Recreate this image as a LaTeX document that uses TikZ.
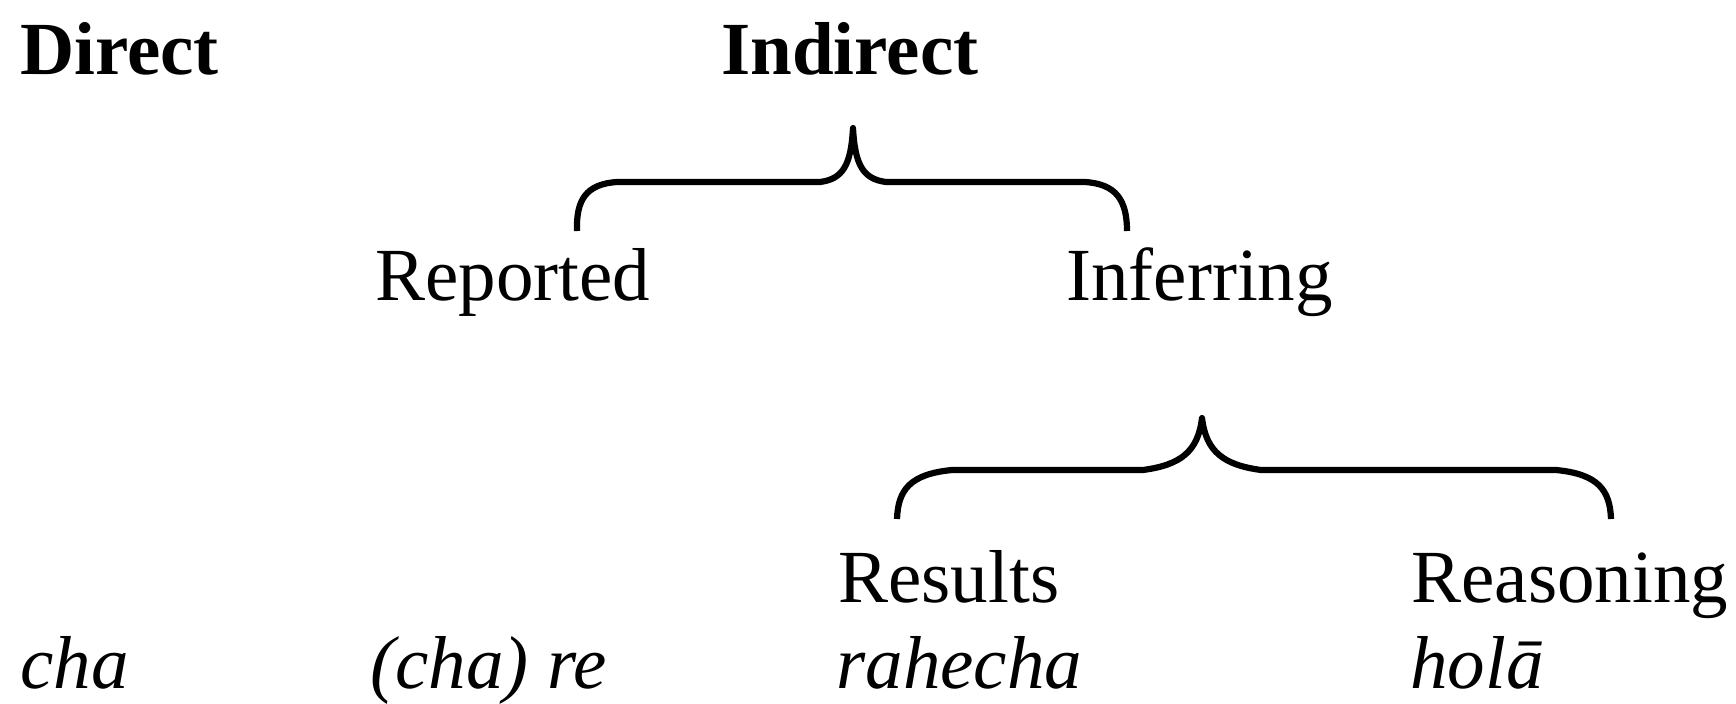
\documentclass[tikz,border=0pt]{standalone}
\usepackage{fontspec}
\setmainfont{Liberation Serif}
\begin{document}
\begin{tikzpicture}[x=0.5pt,y=-0.5pt,
  lbl/.style={anchor=base west,inner sep=0pt,font=\fontsize{37.5pt}{45pt}\selectfont},
  hd/.style={lbl,font=\fontsize{37.5pt}{45pt}\selectfont\bfseries},
  ex/.style={lbl,font=\fontsize{37.5pt}{45pt}\selectfont\itshape},
  brace/.style={line width=3.1pt,line join=round,line cap=butt}]
\useasboundingbox (0,0) rectangle (1736,703);

% headings
\node[hd] (direct)   at (20,74)  {Direct};
\node[hd] (indirect) at (721,74) {Indirect};

% second level
\node[lbl] (reported)  at (375,300)  {Reported};
\node[lbl] (inferring) at (1066,300) {Inferring};

% third level
\node[lbl] (results)   at (838,602)  {Results};
\node[lbl] (reasoning) at (1411,602) {Reasoning};

% example forms
\node[ex] (exdirect)   at (20,688)   {cha};
\node[ex] (exreported) at (370,688)  {(cha) re};
\node[ex] (exresults)  at (836,688)  {rahecha};
\node[ex] (exreason)   at (1410,688) {holā};

% brace under "Indirect"
\draw[brace] (577,231) .. controls (576,200) and (586,184) .. (617,182)
  -- (820,182) .. controls (843,179) and (851,165) .. (853,128)
  .. controls (855,165) and (863,179) .. (886,182)
  -- (1085,182) .. controls (1116,184) and (1127,200) .. (1127,231);

% brace under "Inferring"
\draw[brace] (897,519) .. controls (898,490) and (910,474) .. (952,470)
  -- (1143,470) .. controls (1180,465) and (1198,452) .. (1202,418)
  .. controls (1206,452) and (1224,465) .. (1261,470)
  -- (1556,470) .. controls (1598,474) and (1610,490) .. (1611,519);
\end{tikzpicture}
\end{document}
